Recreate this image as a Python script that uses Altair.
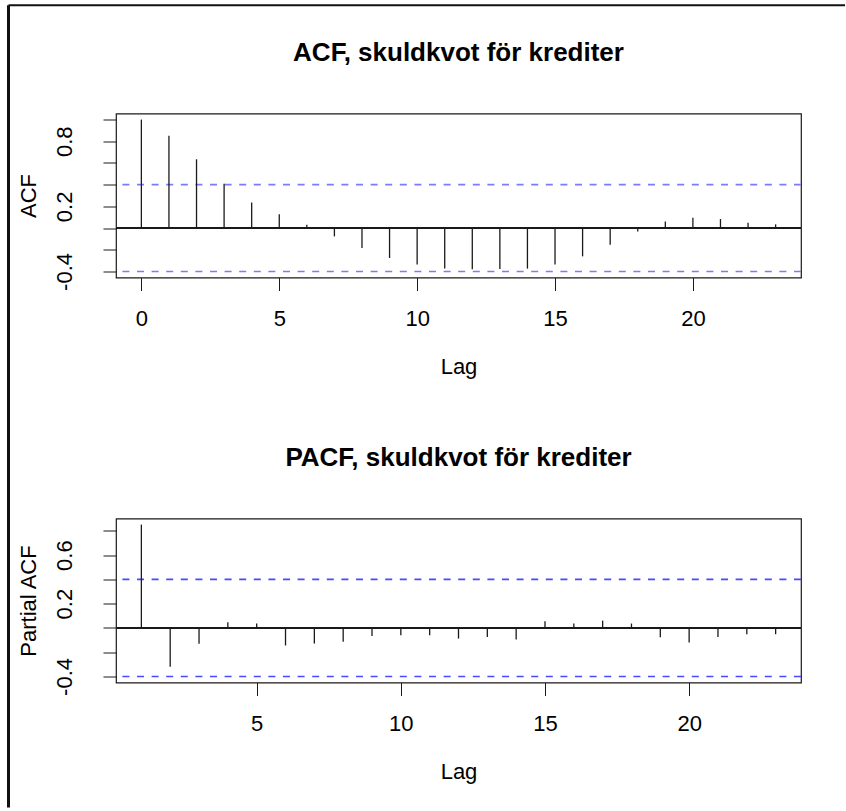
import altair as alt
import pandas as pd

# Sample autocorrelations, lags 0..23
acf_lags = list(range(0, 24))
acf_values = [1.0, 0.852, 0.634, 0.408, 0.236, 0.126, 0.03, -0.077, -0.184, -0.276,
              -0.337, -0.374, -0.38, -0.377, -0.374, -0.337, -0.261, -0.153, -0.031,
              0.061, 0.095, 0.083, 0.049, 0.034]

# Sample partial autocorrelations, lags 1..23
pacf_lags = list(range(1, 24))
pacf_values = [0.852, -0.32, -0.131, 0.047, 0.036, -0.145, -0.129, -0.115, -0.066,
               -0.06, -0.06, -0.088, -0.074, -0.096, 0.055, 0.036, 0.06, 0.036,
               -0.077, -0.12, -0.074, -0.052, -0.052]

# Approximate 95% bounds for white noise
ci_bound = 0.4

acf_xticks = [0, 5, 10, 15, 20]
pacf_xticks = [5, 10, 15, 20]
acf_yticks = [-0.4, -0.2, 0.0, 0.2, 0.4, 0.6, 0.8, 1.0]
pacf_yticks = [-0.4, -0.2, 0.0, 0.2, 0.4, 0.6, 0.8]
acf_ylabels = [-0.4, 0.2, 0.8]
pacf_ylabels = [-0.4, 0.2, 0.6]

FONT = "Liberation Sans"
PLOT_W, PLOT_H = 685, 164
INK = "#1a1a1a"


def label_expr(shown):
    parts = [f"datum.value == {v} ? '{v}'" for v in shown]
    return " : ".join(parts) + " : ''"


def panel(lags, vals, title, ytitle, xticks, yticks, ylabels, ci_color):
    df = pd.DataFrame({"lag": lags, "value": vals})
    df["zero"] = 0.0
    ci_df = pd.DataFrame({"ci": [ci_bound, -ci_bound]})

    lo = min(min(vals), -ci_bound)
    hi = max(max(vals), ci_bound)
    ypad = 0.04 * (hi - lo)
    xlo, xhi = min(lags), max(lags)
    xpad = 0.04 * (xhi - xlo)

    xscale = alt.Scale(domain=[xlo - xpad, xhi + xpad], nice=False, zero=False)
    yscale = alt.Scale(domain=[lo - ypad, hi + ypad], nice=False, zero=False)

    xaxis = alt.Axis(
        values=xticks, title="Lag", grid=False, domain=False,
        ticks=True, tickSize=13, tickColor=INK, tickWidth=1,
        labelFont=FONT, labelFontSize=22, labelColor="black",
        labelPadding=18, labelBaseline="top", labelFlush=False, labelOverlap=False,
        titleFont=FONT, titleFontSize=22, titleFontWeight="normal", titleColor="black",
        titleY=89, titleBaseline="middle",
    )
    yaxis = alt.Axis(
        values=yticks, labelExpr=label_expr(ylabels), title=ytitle, grid=False,
        domain=False, ticks=True, tickSize=13, tickColor=INK, tickWidth=1,
        labelFont=FONT, labelFontSize=22, labelColor="black", labelAngle=270,
        labelAlign="center", labelBaseline="bottom", labelPadding=27,
        labelFlush=False, labelOverlap=False,
        titleFont=FONT, titleFontSize=22, titleFontWeight="normal", titleColor="black",
        titleAngle=270, titleX=-88, titleY=PLOT_H / 2, titleAlign="center",
        titleBaseline="middle",
    )

    ci_lines = alt.Chart(ci_df).mark_rule(
        color=ci_color, strokeWidth=1.6, strokeDash=[7, 7.6]
    ).encode(y=alt.Y("ci:Q", scale=yscale, axis=yaxis))

    zero_line = alt.Chart(df).mark_rule(color=INK, strokeWidth=1.2).encode(
        y=alt.Y("zero:Q", scale=yscale, axis=yaxis)
    )

    spikes = alt.Chart(df).mark_rule(color=INK, strokeWidth=1.3).encode(
        x=alt.X("lag:Q", scale=xscale, axis=xaxis),
        y=alt.Y("value:Q", scale=yscale, axis=yaxis),
        y2="zero:Q",
    )

    return alt.layer(ci_lines, zero_line, spikes).properties(
        width=PLOT_W, height=PLOT_H,
        title=alt.TitleParams(
            text=title, font=FONT, fontSize=26, fontWeight="bold", color="black",
            anchor="middle", frame="group", baseline="alphabetic", offset=27,
        ),
    )


acf_chart = panel(acf_lags, acf_values, "ACF, skuldkvot för krediter", "ACF",
                  acf_xticks, acf_yticks, acf_ylabels, "#7b7bff")
pacf_chart = panel(pacf_lags, pacf_values, "PACF, skuldkvot för krediter", "Partial ACF",
                   pacf_xticks, pacf_yticks, pacf_ylabels, "#4a4aff")

# Thin frame strip drawing the left and top border lines of the figure
frame_df = pd.DataFrame({"k": [0]})
left_edge = alt.Chart(frame_df).mark_rule(color="#111111", strokeWidth=3).encode(
    x=alt.value(-107.5), y=alt.value(-107.3), y2=alt.value(695.0)
)
top_edge = alt.Chart(frame_df).mark_rule(color="#111111", strokeWidth=2).encode(
    x=alt.value(-107.5), x2=alt.value(729), y=alt.value(-107.3)
)
frame = alt.layer(left_edge, top_edge).properties(
    width=PLOT_W, height=1, view=alt.ViewBackground(stroke=None)
)

panels = alt.vconcat(acf_chart, pacf_chart, spacing=241, bounds="flush")

chart = alt.vconcat(frame, panels, spacing=0, bounds="flush").properties(
    padding={"left": 7, "top": 3.5, "right": 0, "bottom": 0},
    background="white",
).configure_view(stroke=INK, strokeWidth=1.2)

chart.save("out.html", embed_options={"renderer": "svg", "actions": False})
